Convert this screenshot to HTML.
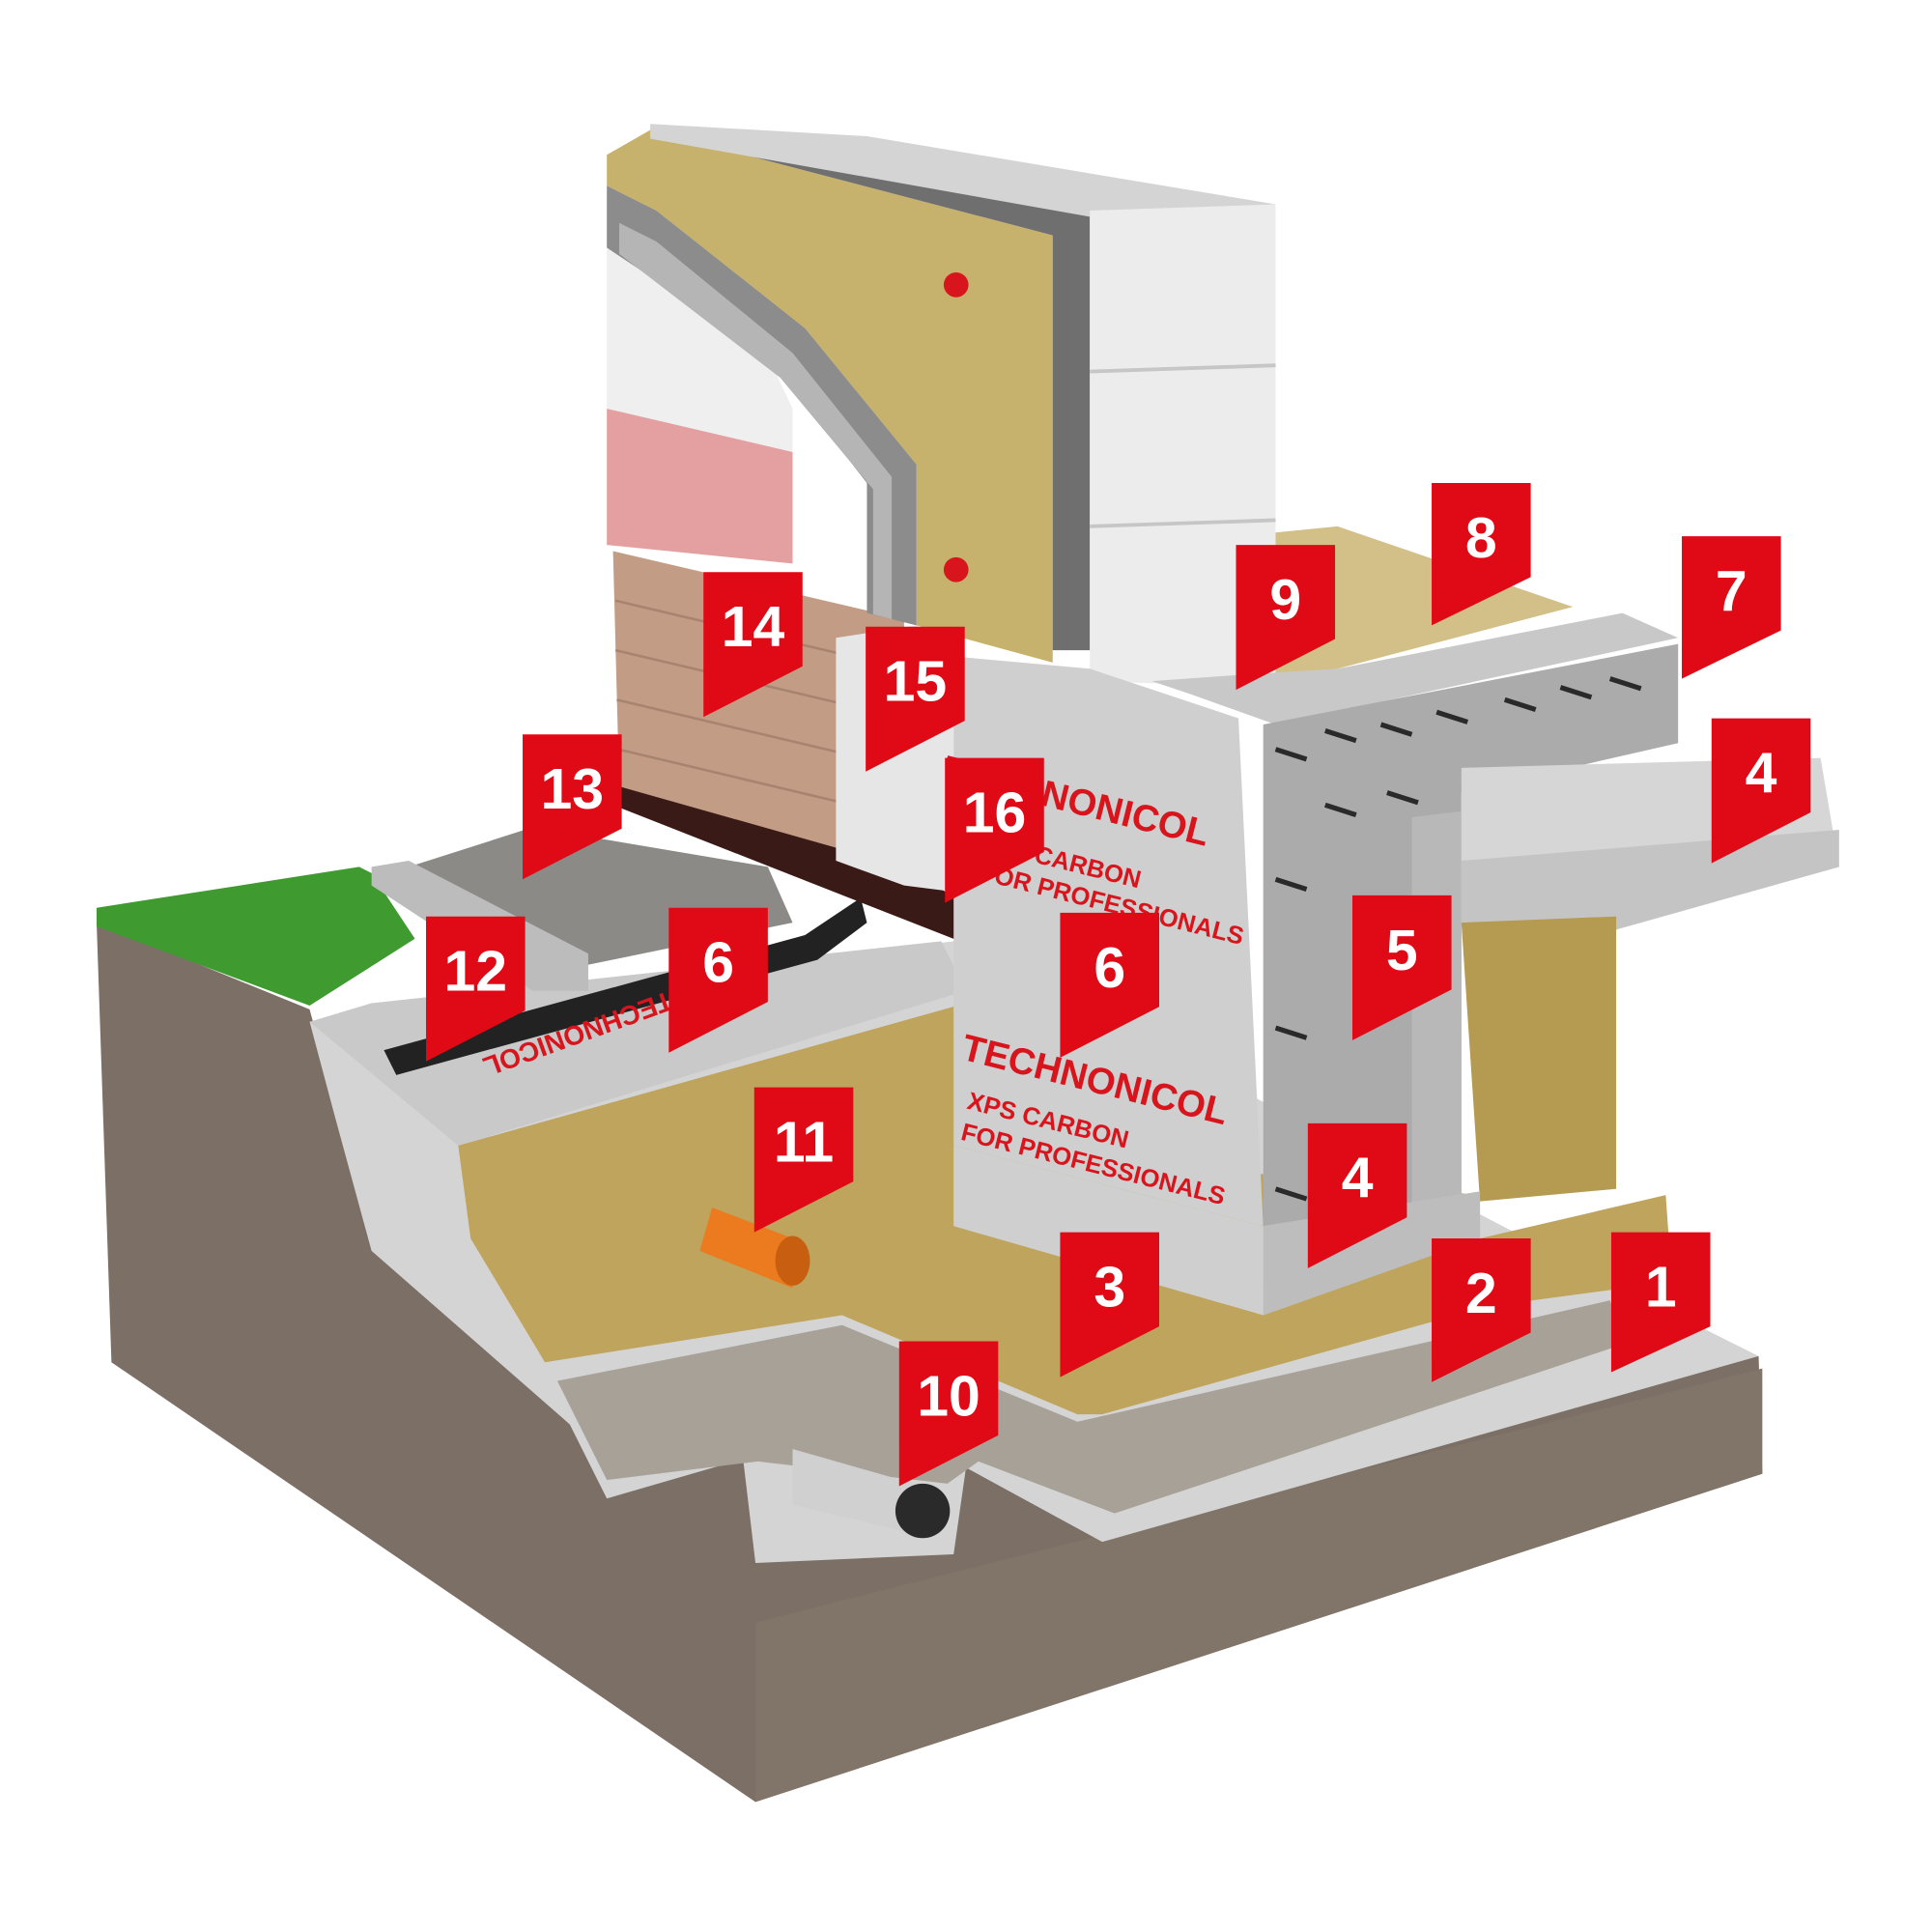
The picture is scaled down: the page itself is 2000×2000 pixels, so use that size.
<!DOCTYPE html>
<html><head><meta charset="utf-8"><style>
html,body{margin:0;padding:0;background:#fff;}
svg{display:block;}
.lb{font-family:"Liberation Sans",sans-serif;font-weight:bold;font-size:46px;fill:#fff;text-anchor:middle;}
.tn{font-family:"Liberation Sans",sans-serif;font-weight:bold;fill:#d8141c;}
</style></head><body>
<svg width="2000" height="2000" viewBox="0 0 1560 1560" xmlns="http://www.w3.org/2000/svg">
<rect width="1560" height="1560" fill="#fff"/>
<!-- soil -->
<polygon points="78,745 250,815 300,1000 460,1150 890,1150 1420,1095 1423,1190 610,1455 90,1100" fill="#7b6f66"/>
<polygon points="610,1310 1423,1105 1423,1190 610,1455" fill="#817469"/>
<!-- grass -->
<polygon points="78,733 290,700 300,705 335,758 250,812 78,748" fill="#3f9b2f"/>
<!-- membrane trench -->
<polygon points="250,825 770,760 1300,1035 1420,1095 890,1245 780,1185 770,1255 610,1262 600,1178 490,1210 460,1150 300,1010 270,900" fill="#d4d4d4"/>
<!-- gravel -->
<polygon points="450,1115 680,1070 870,1148 1300,1050 1312,1085 900,1222 790,1180 765,1198 612,1180 490,1195" fill="#a8a198"/>
<!-- drain pipe -->
<polygon points="640,1170 745,1200 745,1240 640,1215" fill="#d0d0d0"/>
<ellipse cx="745" cy="1220" rx="22" ry="22" fill="#2a2a2a"/>
<!-- sand -->
<polygon points="370,925 780,810 780,925 1195,965 1195,1000 1345,965 1350,1035 1200,1055 890,1142 870,1142 680,1062 440,1100 380,1000" fill="#bea45c"/>
<!-- orange pipe -->
<polygon points="575,975 640,1000 640,1040 565,1010" fill="#ec7a1e"/>
<ellipse cx="640" cy="1018" rx="14" ry="20" fill="#c85e10"/>
<!-- ledge with black membrane -->
<polygon points="250,825 300,810 760,760 780,800 370,925" fill="#c9c9c9"/>
<polygon points="310,848 650,755 695,725 700,745 660,775 320,868" fill="#222"/>
<text class="tn" font-size="22" transform="translate(540,800) rotate(160)">TECHNONICOL</text>
<!-- gravel top & curb -->
<polygon points="330,700 430,668 620,700 640,745 470,780 350,740" fill="#8b8a86"/>
<polygon points="300,700 330,695 475,770 475,800 430,800 300,715" fill="#bcbcbc"/>
<!-- building: layers -->
<polygon points="500,630 730,700 780,730 780,762 500,652" fill="#3a1a16"/>
<polygon points="495,445 730,500 730,700 500,635" fill="#c29c84"/>
<g stroke="#a88470" stroke-width="2">
<line x1="497" y1="485" x2="730" y2="540"/><line x1="497" y1="525" x2="730" y2="580"/><line x1="498" y1="565" x2="730" y2="620"/><line x1="499" y1="605" x2="730" y2="660"/>
</g>
<polygon points="490,165 600,245 640,330 640,455 490,440" fill="#efefef"/>
<polygon points="490,330 640,365 640,455 490,440" fill="#e4a0a0"/>
<polygon points="490,125 525,105 850,190 850,535 740,505 740,375 650,265 530,170 490,150" fill="#c6b26c"/>
<polygon points="490,150 530,170 650,265 740,375 740,505 700,495 700,390 630,300 520,220 490,200" fill="#8c8c8c"/>
<polygon points="500,180 530,195 640,285 720,385 720,500 705,496 705,395 630,305 500,205" fill="#b5b5b5"/>
<circle cx="772" cy="230" r="10" fill="#d8141c"/><circle cx="772" cy="460" r="10" fill="#d8141c"/>
<polygon points="525,105 880,165 880,525 850,525 850,190" fill="#6f6f6f"/>
<polygon points="525,100 700,110 1030,165 880,175 525,112" fill="#d4d4d4"/>
<polygon points="880,170 1030,165 1030,555 880,550" fill="#ececec"/>
<line x1="880" y1="300" x2="1030" y2="295" stroke="#c6c6c6" stroke-width="3"/>
<line x1="880" y1="425" x2="1030" y2="420" stroke="#c6c6c6" stroke-width="3"/>
<polygon points="675,515 740,505 770,530 770,720 730,715 675,695" fill="#e6e6e6"/>
<!-- floor -->
<polygon points="1030,430 1080,425 1270,490 1080,540 1030,545" fill="#d2c088"/>
<polygon points="930,550 1000,545 1080,540 1310,495 1355,515 1030,585 960,560" fill="#c8c8c8"/>
<!-- XPS wall panel -->
<polygon points="770,530 880,540 1000,580 1020,990 770,925" fill="#cfcfcf"/>
<text class="tn" font-size="30" transform="translate(760,630) rotate(14)">TECHNONICOL</text>
<text class="tn" font-size="20" transform="translate(790,685) rotate(14)">XPS CARBON</text>
<text class="tn" font-size="20" transform="translate(790,710) rotate(14)">FOR PROFESSIONALS</text>
<text class="tn" font-size="30" transform="translate(775,855) rotate(14)">TECHNONICOL</text>
<text class="tn" font-size="20" transform="translate(780,895) rotate(14)">XPS CARBON</text>
<text class="tn" font-size="20" transform="translate(775,920) rotate(14)">FOR PROFESSIONALS</text>
<!-- concrete wall right -->
<polygon points="1020,585 1355,520 1355,600 1180,640 1180,970 1020,1000" fill="#ababab"/>
<g stroke="#2a2a2a" stroke-width="4">
<line x1="1030" y1="605" x2="1055" y2="613"/><line x1="1070" y1="590" x2="1095" y2="598"/><line x1="1115" y1="585" x2="1140" y2="593"/><line x1="1160" y1="575" x2="1185" y2="583"/><line x1="1215" y1="565" x2="1240" y2="573"/><line x1="1260" y1="555" x2="1285" y2="563"/><line x1="1300" y1="548" x2="1325" y2="556"/>
<line x1="1030" y1="710" x2="1055" y2="718"/><line x1="1070" y1="650" x2="1095" y2="658"/><line x1="1120" y1="640" x2="1145" y2="648"/><line x1="1030" y1="830" x2="1055" y2="838"/><line x1="1030" y1="960" x2="1055" y2="968"/>
</g>
<polygon points="1140,660 1180,655 1180,970 1140,975" fill="#b8b8b8"/>
<!-- right slab insulation -->
<polygon points="1180,620 1470,612 1485,700 1300,752 1180,745" fill="#d6d6d6"/>
<polygon points="1180,695 1485,670 1485,700 1300,752 1180,745" fill="#c4c4c4"/>
<polygon points="1180,745 1305,740 1305,960 1195,970" fill="#b59a52"/>
<!-- footing -->
<polygon points="770,925 1020,990 1195,962 1195,1000 1020,1062 770,990" fill="#cfcfcf"/>
<polygon points="1020,990 1195,962 1195,1000 1020,1062" fill="#bdbdbd"/>
<!-- flags -->
<g fill="#e00a16">
<path d="M1301,995h80v76L1301,1108z"/>
<path d="M1156,1000h80v76L1156,1116z"/>
<path d="M856,995h80v76L856,1112z"/>
<path d="M1056,907h80v76L1056,1024z"/>
<path d="M1382,580h80v76L1382,697z"/>
<path d="M1092,723h80v76L1092,840z"/>
<path d="M856,737h80v76L856,854z"/>
<path d="M540,733h80v76L540,850z"/>
<path d="M1358,433h80v76L1358,548z"/>
<path d="M1156,390h80v76L1156,505z"/>
<path d="M998,440h80v76L998,557z"/>
<path d="M726,1083h80v76L726,1200z"/>
<path d="M609,878h80v76L609,995z"/>
<path d="M344,740h80v76L344,857z"/>
<path d="M422,593h80v76L422,710z"/>
<path d="M568,462h80v76L568,579z"/>
<path d="M699,506h80v76L699,623z"/>
<path d="M763,612h80v76L763,729z"/>
</g>
<g class="lb">
<text x="1341" y="1055">1</text><text x="1196" y="1060">2</text><text x="896" y="1055">3</text>
<text x="1096" y="967">4</text><text x="1422" y="640">4</text><text x="1132" y="783">5</text>
<text x="896" y="797">6</text><text x="580" y="793">6</text><text x="1398" y="493">7</text>
<text x="1196" y="450">8</text><text x="1038" y="500">9</text><text x="766" y="1143">10</text>
<text x="649" y="938">11</text><text x="384" y="800">12</text><text x="462" y="653">13</text>
<text x="608" y="522">14</text><text x="739" y="566">15</text><text x="803" y="672">16</text>
</g>
</svg>
</body></html>
